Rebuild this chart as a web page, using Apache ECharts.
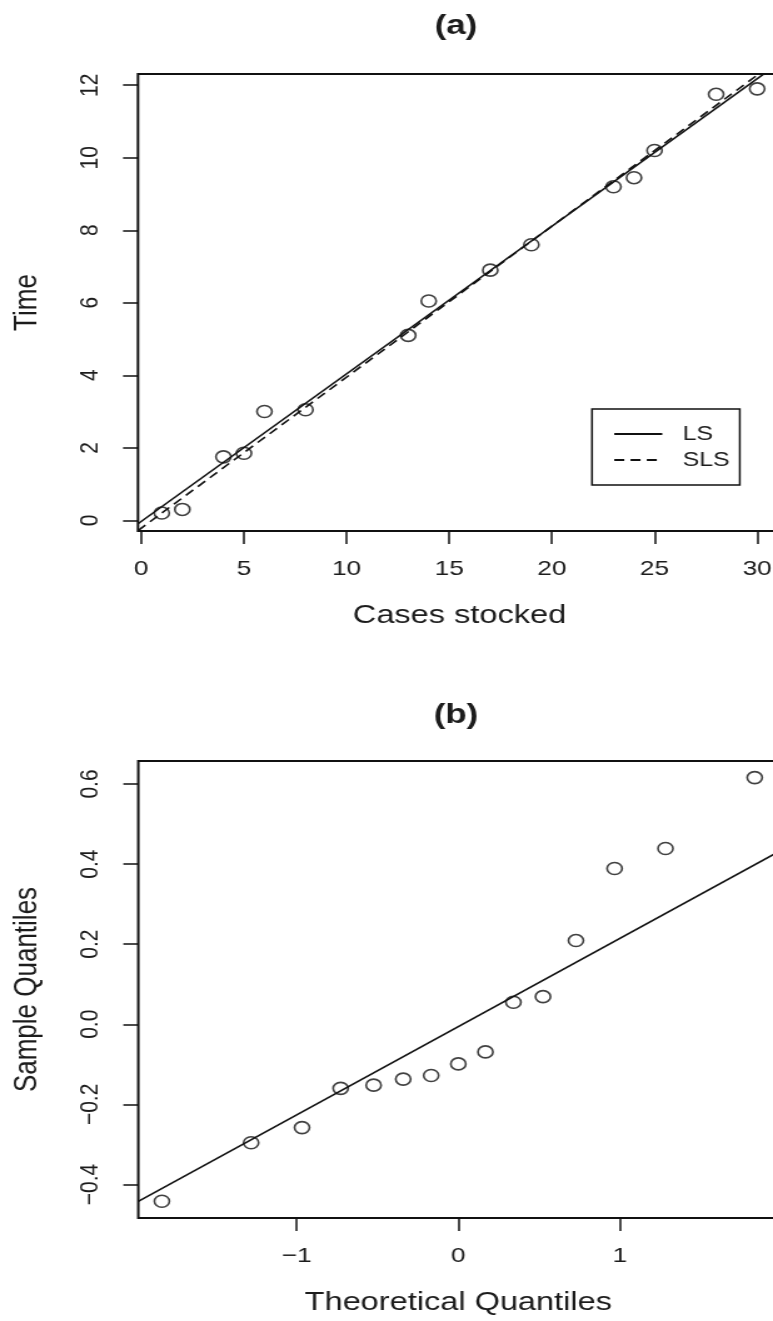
<!DOCTYPE html>
<html>
<head>
<meta charset="utf-8">
<script src="https://cdn.jsdelivr.net/npm/echarts@6/dist/echarts.min.js"></script>
<style>
  html, body { margin: 0; padding: 0; background: #ffffff; overflow: hidden; }
  /* the figure is drawn on a narrower canvas and widened, giving the wide-set lettering and oval markers */
  #chart { width: 618px; height: 1321px; transform: scaleX(1.2508); transform-origin: 0 0; }
</style>
</head>
<body>
<div id="chart"></div>
<script>
// ---- Panel (a): stocking time against number of cases stocked ----
const casesStocked = [1, 2, 4, 5, 6, 8, 13, 14, 17, 19, 23, 24, 25, 28, 30];
const stockingTime = [0.2, 0.3, 1.75, 1.85, 3.0, 3.05, 5.1, 6.05, 6.9, 7.6, 9.2, 9.45, 10.2, 11.75, 11.9];
// fitted lines as [intercept, slope]
const lsCoef = [-0.03, 0.407];
const slsCoef = [-0.216, 0.4165];
const casesTicks = [0, 5, 10, 15, 20, 25, 30];
const timeTicks = [0, 2, 4, 6, 8, 10, 12];
const casesRange = [-0.16, 31.16];
const timeRange = [-0.295, 12.31];

// ---- Panel (b): normal Q-Q plot of the LS residuals ----
const theoreticalQ = [-1.834, -1.282, -0.967, -0.728, -0.524, -0.341, -0.168, 0, 0.168, 0.341, 0.524, 0.728, 0.967, 1.282, 1.834];
const sampleQ = [-0.442, -0.296, -0.258, -0.160, -0.152, -0.137, -0.128, -0.099, -0.069, 0.055, 0.069, 0.209, 0.389, 0.439, 0.616];
const qqCoef = [-0.006, 0.2204];
const theoTicks = [-1, 0, 1];
const sampleTicks = [-0.4, -0.2, 0, 0.2, 0.4, 0.6];
const theoRange = [-1.98, 1.98];
const sampleRange = [-0.4838, 0.6574];

const STRETCH = 1.2508;            // horizontal widening applied by CSS
const sx = v => v / STRETCH;       // page x distance -> canvas x distance

const FONT = '"Liberation Sans", Arial, Helvetica, sans-serif';
const INK = '#111111';
const TEXT = '#1c1c1c';

function zip(xs, ys) { return xs.map((x, i) => [x, ys[i]]); }
function fitLine(coef, range) { return range.map(x => [x, coef[0] + coef[1] * x]); }
function signed(v, digits) {
  const s = Math.abs(v).toFixed(digits);
  return (v < -1e-9 ? '\u2212' : '') + s;
}

function valueAxis(opts) {
  const vertical = opts.vertical;
  return {
    type: 'value',
    gridIndex: opts.grid,
    min: opts.range[0],
    max: opts.range[1],
    name: opts.name,
    nameLocation: 'middle',
    nameGap: vertical ? sx(95) : 72,
    nameRotate: vertical ? 90 : 0,
    nameTextStyle: { fontFamily: FONT, fontSize: 26, color: TEXT },
    axisLine: { show: false, onZero: false },
    splitLine: { show: false },
    axisTick: {
      show: true,
      customValues: opts.ticks,
      length: vertical ? sx(15) : 13,
      lineStyle: { color: INK, width: 1.5 }
    },
    axisLabel: {
      customValues: opts.ticks,
      rotate: vertical ? 90 : 0,
      margin: vertical ? sx(35) : 28,
      fontFamily: FONT,
      fontSize: 21,
      color: TEXT,
      formatter: opts.format
    }
  };
}

const chart = echarts.init(document.getElementById('chart'), null, { renderer: 'canvas' });

// the plotting box runs past the right edge of the page, so keep the grid where it is put
const frame = {
  show: true, borderColor: INK, borderWidth: 2, backgroundColor: 'transparent',
  containLabel: false, outerBoundsMode: 'none'
};
const titleStyle = { fontFamily: FONT, fontSize: 28, fontWeight: 'bold', color: TEXT };
const markerStyle = { color: 'rgba(0,0,0,0)', borderColor: INK, borderWidth: 1.6 };

chart.setOption({
  animation: false,
  backgroundColor: '#ffffff',
  title: [
    { text: '(a)', left: sx(456), top: 12, textAlign: 'center', padding: 0, textStyle: titleStyle },
    { text: '(b)', left: sx(456), top: 701, textAlign: 'center', padding: 0, textStyle: titleStyle }
  ],
  legend: {
    data: ['LS', 'SLS'],
    orient: 'vertical',
    left: sx(592),
    top: 409,
    padding: [15, sx(10), 15, sx(21)],
    itemWidth: sx(48),
    itemHeight: 20,
    itemGap: 6,
    borderColor: INK,
    borderWidth: 1.5,
    backgroundColor: '#ffffff',
    selectedMode: false,
    itemStyle: { opacity: 0 },
    textStyle: { fontFamily: FONT, fontSize: 20, color: TEXT, padding: [0, 0, 0, sx(14)] }
  },
  grid: [
    Object.assign({ left: sx(138), top: 74, width: sx(643), height: 457 }, frame),
    Object.assign({ left: sx(138.3), top: 761, width: sx(640), height: 457 }, frame)
  ],
  xAxis: [
    valueAxis({ grid: 0, range: casesRange, ticks: casesTicks, name: 'Cases stocked',
      format: v => String(v) }),
    valueAxis({ grid: 1, range: theoRange, ticks: theoTicks, name: 'Theoretical Quantiles',
      format: v => signed(v, 0) })
  ],
  yAxis: [
    valueAxis({ grid: 0, vertical: true, range: timeRange, ticks: timeTicks, name: 'Time',
      format: v => String(v) }),
    valueAxis({ grid: 1, vertical: true, range: sampleRange, ticks: sampleTicks, name: 'Sample Quantiles',
      format: v => signed(v, 1) })
  ],
  series: [
    {
      name: 'LS', type: 'line', xAxisIndex: 0, yAxisIndex: 0,
      data: fitLine(lsCoef, casesRange),
      symbol: 'none', silent: true, clip: true,
      lineStyle: { color: INK, width: 1.6, type: 'solid' },
      itemStyle: { color: INK }
    },
    {
      name: 'SLS', type: 'line', xAxisIndex: 0, yAxisIndex: 0,
      data: fitLine(slsCoef, casesRange),
      symbol: 'none', silent: true, clip: true,
      lineStyle: { color: INK, width: 1.6, type: [8, 5] },
      itemStyle: { color: INK }
    },
    {
      name: 'observations', type: 'scatter', xAxisIndex: 0, yAxisIndex: 0,
      data: zip(casesStocked, stockingTime),
      symbol: 'circle', symbolSize: 12, silent: true,
      itemStyle: markerStyle
    },
    {
      name: 'qqline', type: 'line', xAxisIndex: 1, yAxisIndex: 1,
      data: fitLine(qqCoef, theoRange),
      symbol: 'none', silent: true, clip: true,
      lineStyle: { color: INK, width: 1.6 }
    },
    {
      name: 'residuals', type: 'scatter', xAxisIndex: 1, yAxisIndex: 1,
      data: zip(theoreticalQ, sampleQ),
      symbol: 'circle', symbolSize: 12, silent: true,
      itemStyle: markerStyle
    }
  ]
});
</script>
</body>
</html>
